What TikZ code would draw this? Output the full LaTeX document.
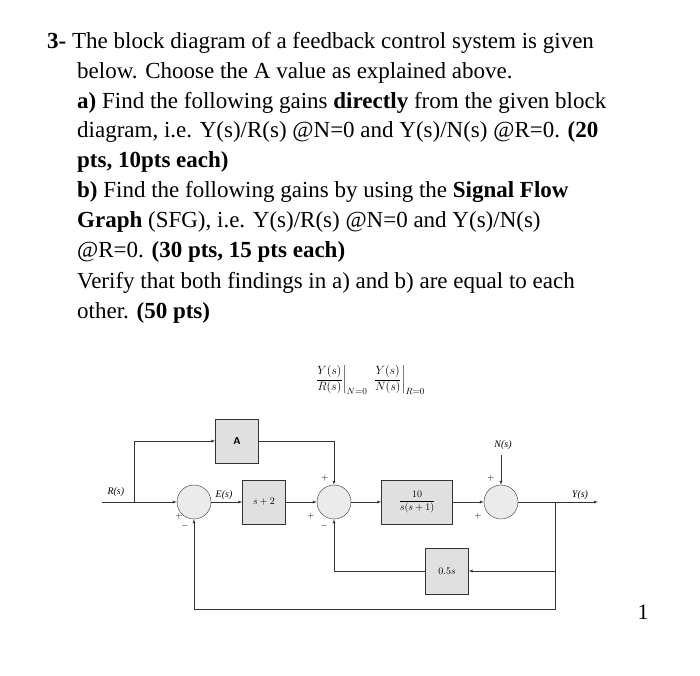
\documentclass[tikz,border=0pt]{standalone}
\usepackage{amsmath}
\usepackage{fontspec}
\setmainfont{Liberation Serif}
\usetikzlibrary{positioning}
\tikzset{
  blk/.style={draw=black!80,fill=black!12,minimum width=43pt,minimum height=44pt,inner sep=0pt,font=\fontsize{10}{12}\selectfont},
  sum/.style={draw=black!80,fill=black!8,circle,minimum size=34pt,inner sep=0pt},
  sig/.style={draw=black!80,-latex},
  lbl/.style={font=\fontsize{10}{12}\selectfont\itshape},
  sgn/.style={font=\fontsize{9}{10}\selectfont},
  txt/.style={anchor=base west,inner sep=0pt,font=\fontsize{23}{28}\selectfont}
}
\begin{document}
\begin{tikzpicture}[x=1pt,y=-1pt]
\useasboundingbox (0,0) rectangle (700,675);
% question text
\node[txt] (l1) at (47,48) {\textbf{3-} The block diagram of a feedback control system is given};
\node[txt] (l2) at (77,78) {below. Choose the A value as explained above.};
\node[txt] (l3) at (77,108) {\textbf{a)} Find the following gains \textbf{directly} from the given block};
\node[txt] (l4) at (77,137) {diagram, i.e. Y(s)/R(s) @N=0 and Y(s)/N(s) @R=0. \textbf{(20}};
\node[txt] (l5) at (77,167) {\textbf{pts, 10pts each)}};
\node[txt] (l6) at (77,197) {\textbf{b)} Find the following gains by using the \textbf{Signal Flow}};
\node[txt] (l7) at (77,227) {\textbf{Graph} (SFG), i.e. Y(s)/R(s) @N=0 and Y(s)/N(s)};
\node[txt] (l8) at (77,257) {@R=0. \textbf{(30 pts, 15 pts each)}};
\node[txt] (l9) at (77,288) {Verify that both findings in a) and b) are equal to each};
\node[txt] (l10) at (77,318) {other. \textbf{(50 pts)}};
% gains
\node (gain) at (370,380) {\fontsize{13}{15}\selectfont$\left.\dfrac{Y(s)}{R(s)}\right|_{N=0}\ \left.\dfrac{Y(s)}{N(s)}\right|_{R=0}$};
% blocks
\node[sum] (s1) at (194,502) {};
\node[blk] (g1) at (264,502) {$s+2$};
\node[sum] (s2) at (334,502) {};
\node[blk] (ga) at (237,441) {\sffamily\bfseries A};
\node[blk,minimum width=71pt] (g2) at (417,502) {$\dfrac{10}{s(s+1)}$};
\node[sum] (s3) at (501,502) {};
\node[blk,minimum height=46pt] (h) at (447,571) {$0.5s$};
\coordinate (rin) at (102,502);
\coordinate (rb) at (134,502);
\coordinate (yout) at (598,502);
\coordinate (yb) at (555,502);
\coordinate (nin) at (501,455);
\node[lbl,anchor=south west] (rl) at (104,500) {R(s)};
\node[lbl,anchor=south] (el) at (224,503) {E(s)};
\node[lbl,anchor=south] (yl) at (580,503) {Y(s)};
\node[lbl,anchor=south] (nl) at (503,453) {N(s)};
\node[font=\fontsize{22}{24}\selectfont] (pg) at (643,612) {1};
% signals
\draw[draw=black!80] (rin) -- (rb);
\draw[sig] (rb) -- (s1);
\draw[sig] (rb) |- (ga);
\draw[sig] (ga) -| (s2);
\draw[sig] (s1) -- (g1);
\draw[sig] (g1) -- (s2);
\draw[sig] (s2) -- (g2);
\draw[sig] (g2) -- (s3);
\draw[sig] (nin) -- (s3);
\draw[sig] (s3) -- (yout);
\draw[sig] (yb) |- (h);
\draw[sig] (h) -| (s2);
\draw[sig] (yb) |- (194,609) -- (s1);
% signs
\node[sgn] (p1) at (179,516) {$+$};
\node[sgn] (m1) at (185,526) {$-$};
\node[sgn] (p2) at (325,478) {$+$};
\node[sgn] (p3) at (311,516) {$+$};
\node[sgn] (m2) at (324,526) {$-$};
\node[sgn] (p4) at (491,478) {$+$};
\node[sgn] (p5) at (478,516) {$+$};
\end{tikzpicture}
\end{document}
